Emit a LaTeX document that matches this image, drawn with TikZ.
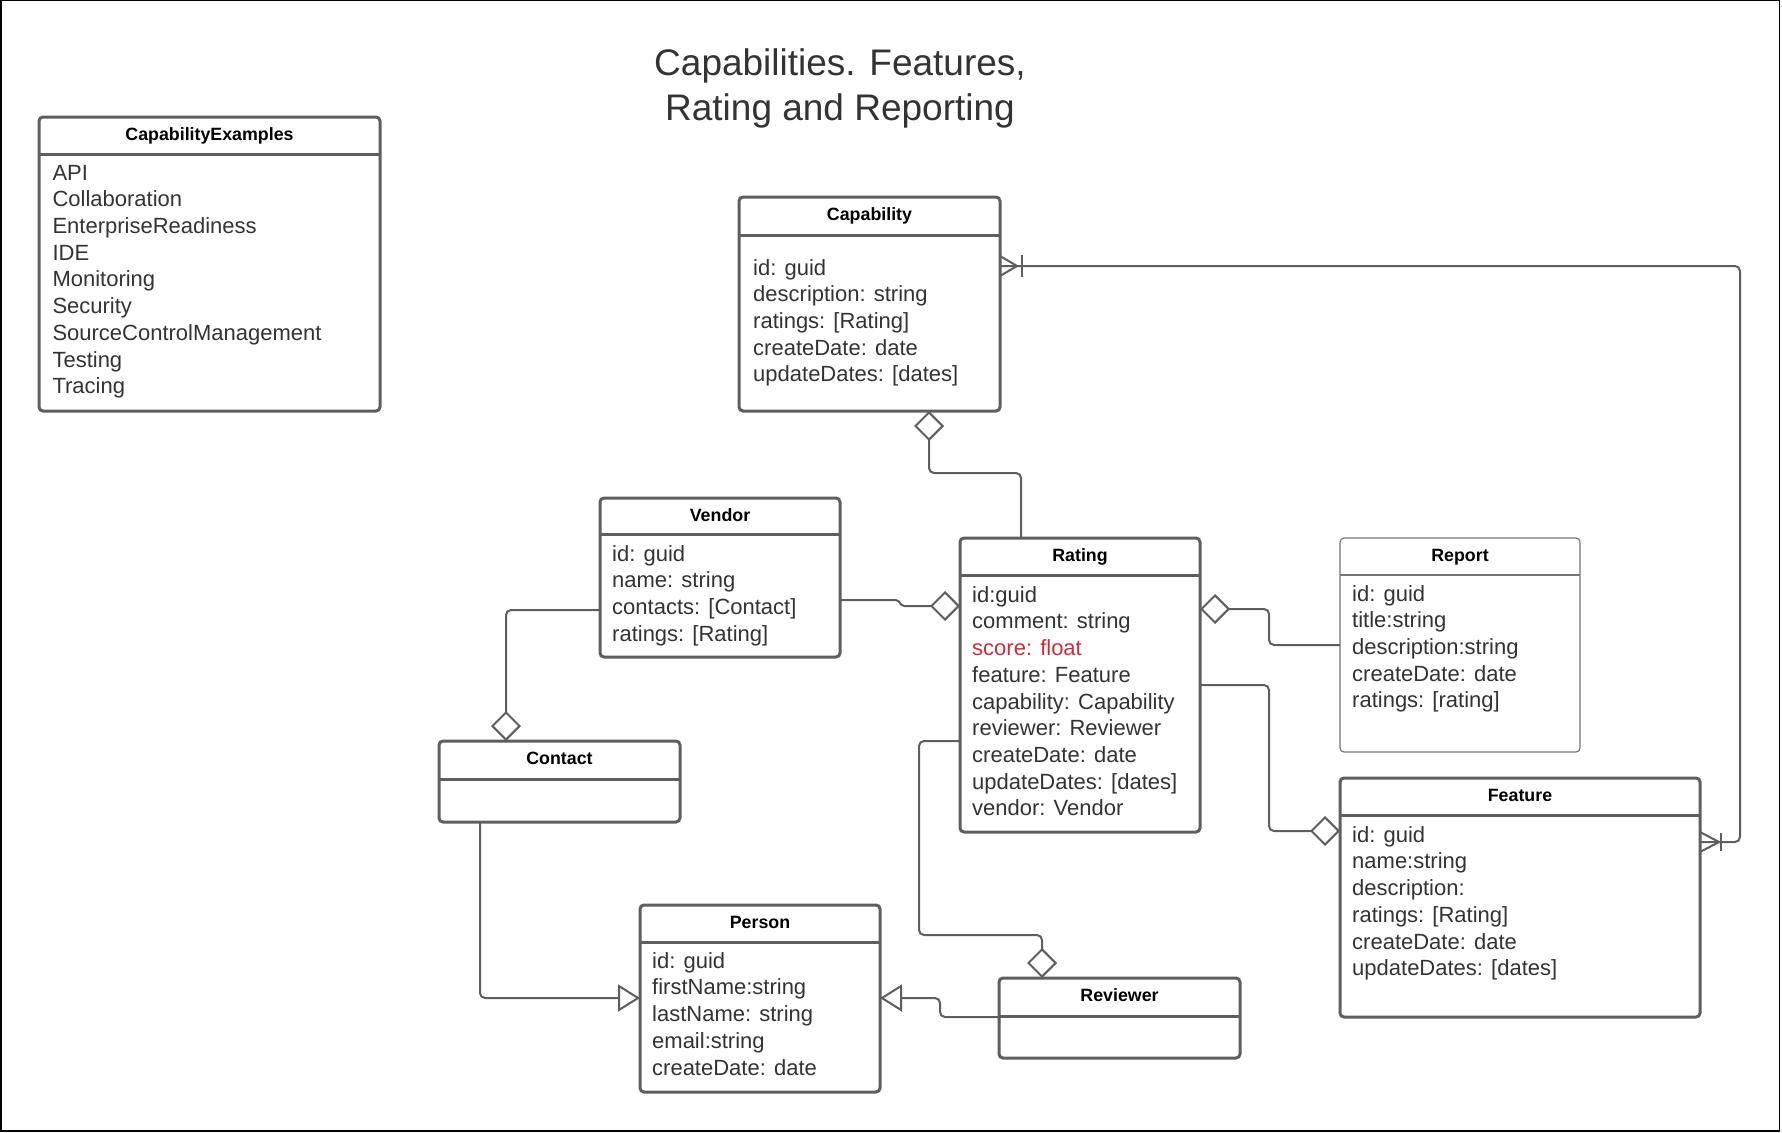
\documentclass[tikz,border=0pt]{standalone}
\usepackage{fontspec}
\setmainfont{Liberation Sans}
\usetikzlibrary{arrows.meta,calc}
\definecolor{lc}{HTML}{5E5E5E}
\definecolor{tc}{HTML}{333333}
\definecolor{sred}{HTML}{C92D39}
\newcommand\attrfont{\fontsize{22}{26.7}\selectfont}
\newcommand\hdrfont{\fontsize{17.8}{21}\selectfont\bfseries}
\newcommand\ttlfont{\fontsize{37}{44.3}\selectfont}
\tikzset{
  cls/.style={draw=lc, line width=3pt, rounded corners=4pt, fill=white, inner sep=0pt, outer sep=0pt, anchor=north west},
  thincls/.style={cls, line width=1.2pt, draw=lc!85},
  divline/.style={draw=lc, line width=3pt},
  thindiv/.style={draw=lc!85, line width=1.2pt},
  hdr/.style={font=\hdrfont, text=black, inner sep=0pt, anchor=base},
  attr/.style={font=\attrfont, text=tc, inner sep=0pt, anchor=north west, align=left},
  conn/.style={draw=lc, line width=2pt, rounded corners=5pt},
  agg/.style={-{Diamond[open, length=30pt, width=30pt]}},
  gen/.style={-{Triangle[open, length=22pt, width=27pt]}},
  crow/.style={draw=lc, line width=2pt},
}
\begin{document}
\begin{tikzpicture}[x=1pt,y=-1pt]
\useasboundingbox (0,0) rectangle (1782,1132);
\fill[white] (0,0) rectangle (1782,1132);
\draw[black, line width=1.5pt] (0.75,0.75) rectangle (1779.5,1131.2);

% title
\node[font=\ttlfont, text=tc, align=center, anchor=north, inner sep=0pt] (title) at (840,44.7)
  {\strut Capabilities. Features,\\Rating and Reporting};

% CapabilityExamples
\node[cls, minimum width=341, minimum height=294] (capex) at (39,117) {};
\draw[divline] ($(capex.north west)+(0,37)$) -- ($(capex.north east)+(0,37)$);
\node[hdr] (capexT) at ($(capex.north)+(0,23.5)$) {CapabilityExamples};
\node[attr] (capexA) at ($(capex.north west)+(13.3,44.3)$) {\strut API\\Collaboration\\EnterpriseReadiness\\IDE\\Monitoring\\Security\\SourceControlManagement\\Testing\\Tracing};

% Capability
\node[cls, minimum width=261, minimum height=214] (capability) at (739,197) {};
\draw[divline] ($(capability.north west)+(0,38)$) -- ($(capability.north east)+(0,38)$);
\node[hdr] (capabilityT) at ($(capability.north)+(0,23.5)$) {Capability};
\node[attr] (capabilityA) at ($(capability.north west)+(14,59.3)$) {\strut id: guid\\description: string\\ratings: [Rating]\\createDate: date\\updateDates: [dates]};

% Vendor
\node[cls, minimum width=240, minimum height=159] (vendor) at (600,498) {};
\draw[divline] ($(vendor.north west)+(0,36)$) -- ($(vendor.north east)+(0,36)$);
\node[hdr] (vendorT) at ($(vendor.north)+(0,23.5)$) {Vendor};
\node[attr] (vendorA) at ($(vendor.north west)+(12,44.3)$) {\strut id: guid\\name: string\\contacts: [Contact]\\ratings: [Rating]};

% Rating
\node[cls, minimum width=240, minimum height=294] (rating) at (960,538) {};
\draw[divline] ($(rating.north west)+(0,37)$) -- ($(rating.north east)+(0,37)$);
\node[hdr] (ratingT) at ($(rating.north)+(0,23.5)$) {Rating};
\node[attr] (ratingA) at ($(rating.north west)+(12,45.3)$) {\strut id:guid\\comment: string\\\textcolor{sred}{score: float}\\feature: Feature\\capability: Capability\\reviewer: Reviewer\\createDate: date\\updateDates: [dates]\\vendor: Vendor};

% Report
\node[thincls, minimum width=240, minimum height=214] (report) at (1340,538) {};
\draw[thindiv] ($(report.north west)+(0,37)$) -- ($(report.north east)+(0,37)$);
\node[hdr] (reportT) at ($(report.north)+(0,23.5)$) {Report};
\node[attr] (reportA) at ($(report.north west)+(12,44.3)$) {\strut id: guid\\title:string\\description:string\\createDate: date\\ratings: [rating]};

% Feature
\node[cls, minimum width=360, minimum height=239] (feature) at (1340,778) {};
\draw[divline] ($(feature.north west)+(0,37)$) -- ($(feature.north east)+(0,37)$);
\node[hdr] (featureT) at ($(feature.north)+(0,23.5)$) {Feature};
\node[attr] (featureA) at ($(feature.north west)+(12,45.3)$) {\strut id: guid\\name:string\\description:\\ratings: [Rating]\\createDate: date\\updateDates: [dates]};

% Contact
\node[cls, minimum width=241, minimum height=81] (contact) at (439,741) {};
\draw[divline] ($(contact.north west)+(0,38)$) -- ($(contact.north east)+(0,38)$);
\node[hdr] (contactT) at ($(contact.north)+(0,23.5)$) {Contact};

% Person
\node[cls, minimum width=240, minimum height=187] (person) at (640,905) {};
\draw[divline] ($(person.north west)+(0,37)$) -- ($(person.north east)+(0,37)$);
\node[hdr] (personT) at ($(person.north)+(0,23.5)$) {Person};
\node[attr] (personA) at ($(person.north west)+(12,44.3)$) {\strut id: guid\\firstName:string\\lastName: string\\email:string\\createDate: date};

% Reviewer
\node[cls, minimum width=241, minimum height=80] (reviewer) at (999,978) {};
\draw[divline] ($(reviewer.north west)+(0,38)$) -- ($(reviewer.north east)+(0,38)$);
\node[hdr] (reviewerT) at ($(reviewer.north)+(0,23.5)$) {Reviewer};

% connectors
% Rating -> Capability (aggregation)
\draw[conn, agg] ($(rating.north west)+(61,0)$) -- ++(0,-65) -| ($(capability.south west)+(190,0)$);
% Vendor -> Rating
\draw[conn, rounded corners=2pt, agg] ($(vendor.north east)+(0,102)$) -- ++(58,0) -- ++(4,6) -- ($(rating.north west)+(0,68)$);
% Report -> Rating
\draw[conn, agg] ($(report.north west)+(0,107)$) -- ++(-71,0) |- ($(rating.north east)+(0,71)$);
% Rating -> Feature
\draw[conn, agg] ($(rating.north east)+(0,147)$) -- ++(69,0) |- ($(feature.north west)+(0,53)$);
% Rating -> Reviewer
\draw[conn, agg] ($(rating.north west)+(0,203)$) -| ++(-41,194) -| ($(reviewer.north west)+(43,0)$);
% Vendor -> Contact
\draw[conn, agg] ($(vendor.north west)+(0,112)$) -| ($(contact.north west)+(67,0)$);
% Contact -> Person (generalization)
\draw[conn, gen] ($(contact.south west)+(41,0)$) |- ($(person.north west)+(0,93)$);
% Reviewer -> Person (generalization)
\draw[conn, gen] ($(reviewer.north west)+(0,39)$) -| ++(-59,-19) -- ($(person.north east)+(0,93)$);
% Capability <-> Feature (one-or-many both ends)
\coordinate (cf1) at ($(capability.north east)+(0,69)$);
\coordinate (cf2) at ($(feature.north east)+(0,64)$);
\draw[conn] (cf1) -| ($(cf2)+(40,0)$) -- (cf2);
\draw[crow] ($(cf1)+(0,-10)$) -- ($(cf1)+(17,0)$) -- ($(cf1)+(0,10)$);
\draw[crow] ($(cf1)+(22,-11)$) -- ($(cf1)+(22,11)$);
\draw[crow] ($(cf2)+(0,-10)$) -- ($(cf2)+(19,0)$) -- ($(cf2)+(0,10)$);
\draw[crow] ($(cf2)+(21,-9)$) -- ($(cf2)+(21,9)$);
\end{tikzpicture}
\end{document}
